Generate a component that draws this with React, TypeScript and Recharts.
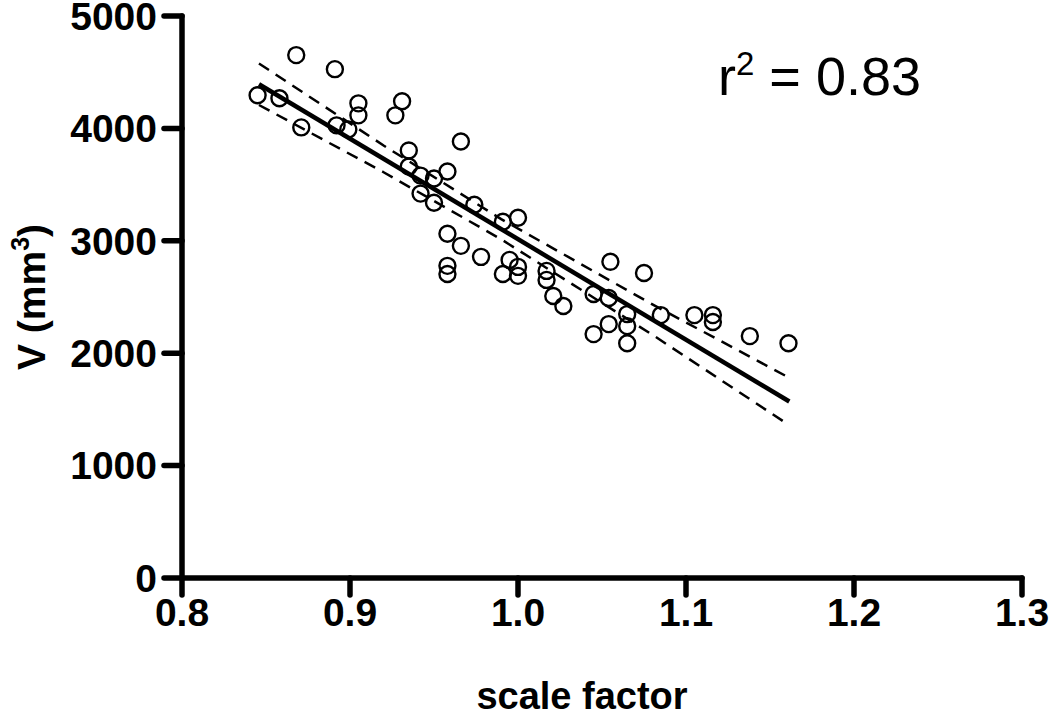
import React from 'react';
import { ScatterChart, Scatter, XAxis, YAxis, Label } from 'recharts';

const scaleFactor = [0.845, 0.858, 0.868, 0.891, 0.871, 0.892, 0.899, 0.905, 0.905, 0.931, 0.927, 0.935, 0.935, 0.942, 0.950, 0.942, 0.950, 0.958, 0.966, 0.974, 0.958, 0.966, 0.958, 0.958, 0.978, 0.991, 1.000, 0.995, 1.000, 0.991, 1.000, 1.017, 1.017, 1.021, 1.027, 1.055, 1.045, 1.054, 1.065, 1.054, 1.065, 1.045, 1.065, 1.075, 1.085, 1.105, 1.116, 1.116, 1.138, 1.161];
const volume = [4295, 4268, 4652, 4527, 4009, 4027, 3991, 4223, 4116, 4241, 4116, 3804, 3661, 3580, 3554, 3420, 3339, 3616, 3884, 3321, 3063, 2955, 2777, 2705, 2857, 3170, 3205, 2830, 2768, 2705, 2688, 2732, 2652, 2509, 2420, 2813, 2527, 2491, 2348, 2259, 2241, 2170, 2089, 2714, 2339, 2339, 2339, 2277, 2152, 2089];

const fitX = [0.8458, 1.1615];
const fitY = [4393, 1570];

const bandX = [0.8458, 0.92, 0.99, 1.08, 1.1615];
const bandUpper = [4578, 3848, 3193, 2434, 1781];
const bandLower = [4208, 3610, 3013, 2164, 1359];

const xTicks = [0.8, 0.9, 1.0, 1.1, 1.2, 1.3];
const yTicks = [0, 1000, 2000, 3000, 4000, 5000];

const W = 1050;
const H = 716;
const FONT = '"Liberation Sans", Arial, Helvetica, sans-serif';

const Ring = (props: any) => (
  <circle cx={props.cx} cy={props.cy} r={8} fill="none" stroke="#000" strokeWidth={2.4} />
);
const Empty = () => <g />;

const YLabel = (props: any) => {
  const vb = props.viewBox || { x: 0, y: 16, width: 182, height: 562 };
  const cx = 45;
  const cy = (vb.y ?? 16) + (vb.height ?? 562) / 2;
  return (
    <text
      x={cx}
      y={cy}
      transform={`rotate(-90 ${cx} ${cy})`}
      textAnchor="middle"
      fill="#000"
      fontSize={39}
      fontWeight="bold"
      fontFamily={FONT}
    >
      V (mm<tspan dy={-16} fontSize={25}>3</tspan>
      <tspan dy={16}>)</tspan>
    </text>
  );
};

const XLabel = () => (
  <text x={582} y={709} textAnchor="middle" fill="#000" fontSize={38} fontWeight="bold" fontFamily={FONT}>
    scale factor
  </text>
);

export default function App() {
  const points = scaleFactor.map((x, i) => ({ x, y: volume[i] }));
  const fit = fitX.map((x, i) => ({ x, y: fitY[i] }));
  const upper = bandX.map((x, i) => ({ x, y: bandUpper[i] }));
  const lower = bandX.map((x, i) => ({ x, y: bandLower[i] }));
  const axisStyle = { stroke: '#000', strokeWidth: 5.5, strokeLinecap: 'round' as const };
  const tickStyle = { fill: '#000', fontSize: 39, fontWeight: 'bold', fontFamily: FONT };

  return (
    <div style={{ position: 'absolute', left: 0, top: 0, width: W, height: H, background: '#fff' }}>
      <ScatterChart width={W} height={H} margin={{ top: 16, right: 28, bottom: 0, left: 0 }}>
        <XAxis
          type="number"
          dataKey="x"
          domain={[0.8, 1.3]}
          ticks={xTicks}
          interval={0}
          allowDataOverflow
          tickFormatter={(v: number) => v.toFixed(1)}
          height={138}
          axisLine={axisStyle}
          tickLine={axisStyle}
          tickSize={17}
          tickMargin={3}
          tick={tickStyle}
        >
          <Label content={<XLabel />} />
        </XAxis>
        <YAxis
          type="number"
          dataKey="y"
          domain={[0, 5000]}
          ticks={yTicks}
          interval={0}
          allowDataOverflow
          width={182}
          axisLine={axisStyle}
          tickLine={axisStyle}
          tickSize={18}
          tickMargin={7}
          tick={tickStyle}
        >
          <Label content={<YLabel />} />
        </YAxis>
        <Scatter data={points} shape={<Ring />} isAnimationActive={false} />
        <Scatter data={fit} shape={<Empty />} line={{ stroke: '#000', strokeWidth: 4.5 }} lineType="joint" isAnimationActive={false} />
        <Scatter data={upper} shape={<Empty />} line={{ stroke: '#000', strokeWidth: 2.5, strokeDasharray: '12 8' }} lineType="joint" isAnimationActive={false} />
        <Scatter data={lower} shape={<Empty />} line={{ stroke: '#000', strokeWidth: 2.5, strokeDasharray: '12 8' }} lineType="joint" isAnimationActive={false} />
      </ScatterChart>
      <div
        style={{
          position: 'absolute',
          left: 718,
          top: 49,
          fontFamily: FONT,
          fontSize: 54,
          lineHeight: '54px',
          color: '#000',
          whiteSpace: 'nowrap',
        }}
      >
        r<span style={{ fontSize: 33, position: 'relative', top: -20 }}>2</span> = 0.83
      </div>
    </div>
  );
}
